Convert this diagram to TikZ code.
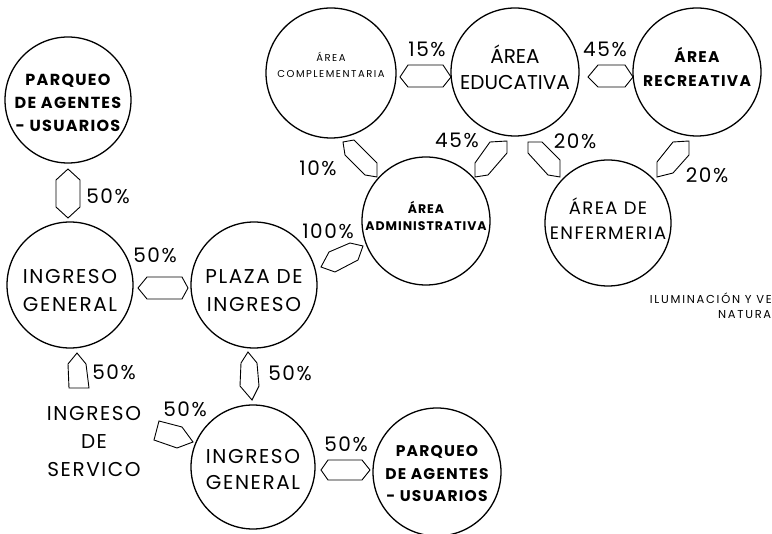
\documentclass[tikz,border=0pt]{standalone}
\usepackage{fontspec}
\setmainfont{Poppins}
\newfontfamily\spc[LetterSpace=8]{Poppins}
\newfontfamily\wide[LetterSpace=15]{Poppins}
\begin{document}
\begin{tikzpicture}[x=1pt,y=-1pt,
  zone/.style={circle,draw,line width=1.3pt,minimum size=#1,inner sep=0pt},
  lbl/.style={align=center,inner sep=0pt},
  hexa/.style={draw,line width=0.9pt,line join=miter},
  pct/.style={font=\spc\fontsize{20}{20}\selectfont,inner sep=0pt}]
\useasboundingbox (0,0) rectangle (772,534);
\clip (0,0) rectangle (772,534);
% circles
\node[zone=126pt] (pa) at (68,100) {};
\node[zone=126pt] (ig) at (70,285) {};
\node[zone=126pt] (pl) at (254,285) {};
\node[zone=124pt] (ib) at (253,467) {};
\node[zone=128pt] (pb) at (437,472) {};
\node[zone=130pt] (ac) at (331,73) {};
\node[zone=128pt] (ae) at (515,72) {};
\node[zone=128pt] (ar) at (697,72) {};
\node[zone=128pt] (aa) at (426,221) {};
\node[zone=126pt] (en) at (608,223) {};
% texts (yshift: positive = upwards)
\node[lbl,font=\spc\bfseries\fontsize{16}{23}\selectfont] (tpa) at ([yshift=-3pt]pa) {PARQUEO\\DE AGENTES\\- USUARIOS};
\node[lbl,font=\spc\fontsize{20}{28}\selectfont] (tig) at ([yshift=-5.5pt]ig) {INGRESO\\GENERAL};
\node[lbl,font=\spc\fontsize{20}{28}\selectfont] (tpl) at ([yshift=-6pt]pl) {PLAZA DE\\INGRESO};
\node[lbl,font=\spc\fontsize{20}{26}\selectfont] (tib) at ([yshift=-2.5pt]ib) {INGRESO\\GENERAL};
\node[lbl,font=\spc\bfseries\fontsize{15.5}{22.5}\selectfont] (tpb) at ([yshift=-2pt]pb) {PARQUEO\\DE AGENTES\\- USUARIOS};
\node[lbl,font=\wide\fontsize{10}{16}\selectfont] (tac) at ([yshift=8pt]ac) {ÁREA\\COMPLEMENTARIA};
\node[lbl,font=\fontsize{20}{26}\selectfont] (tae) at ([yshift=5pt]ae) {ÁREA\\EDUCATIVA};
\node[lbl,font=\spc\bfseries\fontsize{15.5}{24}\selectfont] (tar) at ([yshift=5pt]ar) {ÁREA\\RECREATIVA};
\node[lbl,font=\spc\bfseries\fontsize{12.5}{17}\selectfont] (taa) at ([yshift=5pt]aa) {ÁREA\\ADMINISTRATIVA};
\node[lbl,font=\spc\fontsize{18}{25}\selectfont] (ten) at ([yshift=4pt]en) {ÁREA DE\\ENFERMERIA};
\node[lbl,font=\spc\fontsize{20}{28}\selectfont] (tsv) at (94,442) {INGRESO\\DE\\SERVICO};
\node[lbl,font=\wide\fontsize{11.5}{15}\selectfont] (til) at (748,306) {ILUMINACIÓN Y VENTILACIÓN\\NATURAL};
% hexagonal links
\draw[hexa] (68,169) -- (80,180) -- (80,207) -- (68,218) -- (56,207) -- (56,180) -- cycle;
\draw[hexa] (138,288) -- (147,277) -- (182,277) -- (188,288) -- (182,299) -- (147,299) -- cycle;
\draw[hexa] (77,353) -- (86,364) -- (89,388) -- (69,388) -- (68,364) -- cycle;
\draw[hexa] (248,352) -- (257,363) -- (259,386) -- (252,400) -- (240,386) -- (241,363) -- cycle;
\draw[hexa] (159,421) -- (182,427) -- (193,442) -- (177,448) -- (154,440) -- cycle;
\draw[hexa] (321,470) -- (328,460) -- (362,460) -- (370,470) -- (362,480) -- (328,480) -- cycle;
\draw[hexa] (321,267) -- (329,252) -- (350,243) -- (363,246) -- (358,260) -- (335,272) -- cycle;
\draw[hexa] (400,77) -- (408,65) -- (443,65) -- (451,77) -- (443,87) -- (408,87) -- cycle;
\draw[hexa] (588,77) -- (598,65) -- (625,65) -- (633,77) -- (625,87) -- (598,87) -- cycle;
\draw[hexa] (343,142) -- (354,140) -- (377,163) -- (377,177) -- (365,175) -- (345,155) -- cycle;
\draw[hexa] (490,142) -- (507,141) -- (507,153) -- (488,175) -- (475,177) -- (475,163) -- cycle;
\draw[hexa] (528,142) -- (542,142) -- (560,160) -- (560,177) -- (548,175) -- (528,153) -- cycle;
\draw[hexa] (673,142) -- (689,141) -- (689,155) -- (673,173) -- (657,177) -- (657,162) -- cycle;
% percentages
\node[pct] (p1) at (108,196) {50\%};
\node[pct] (p2) at (155,255) {50\%};
\node[pct] (p3) at (114,372) {50\%};
\node[pct] (p4) at (290,373) {50\%};
\node[pct] (p5) at (185,409) {50\%};
\node[pct] (p6) at (346,444) {50\%};
\node[pct] (p7) at (328,231) {100\%};
\node[pct] (p8) at (318,168) {10\%};
\node[pct] (p9) at (457,140) {45\%};
\node[pct] (p10) at (575,141) {20\%};
\node[pct] (p11) at (707,175) {20\%};
\node[pct] (p12) at (427,49) {15\%};
\node[pct] (p13) at (605,49) {45\%};
\end{tikzpicture}
\end{document}
